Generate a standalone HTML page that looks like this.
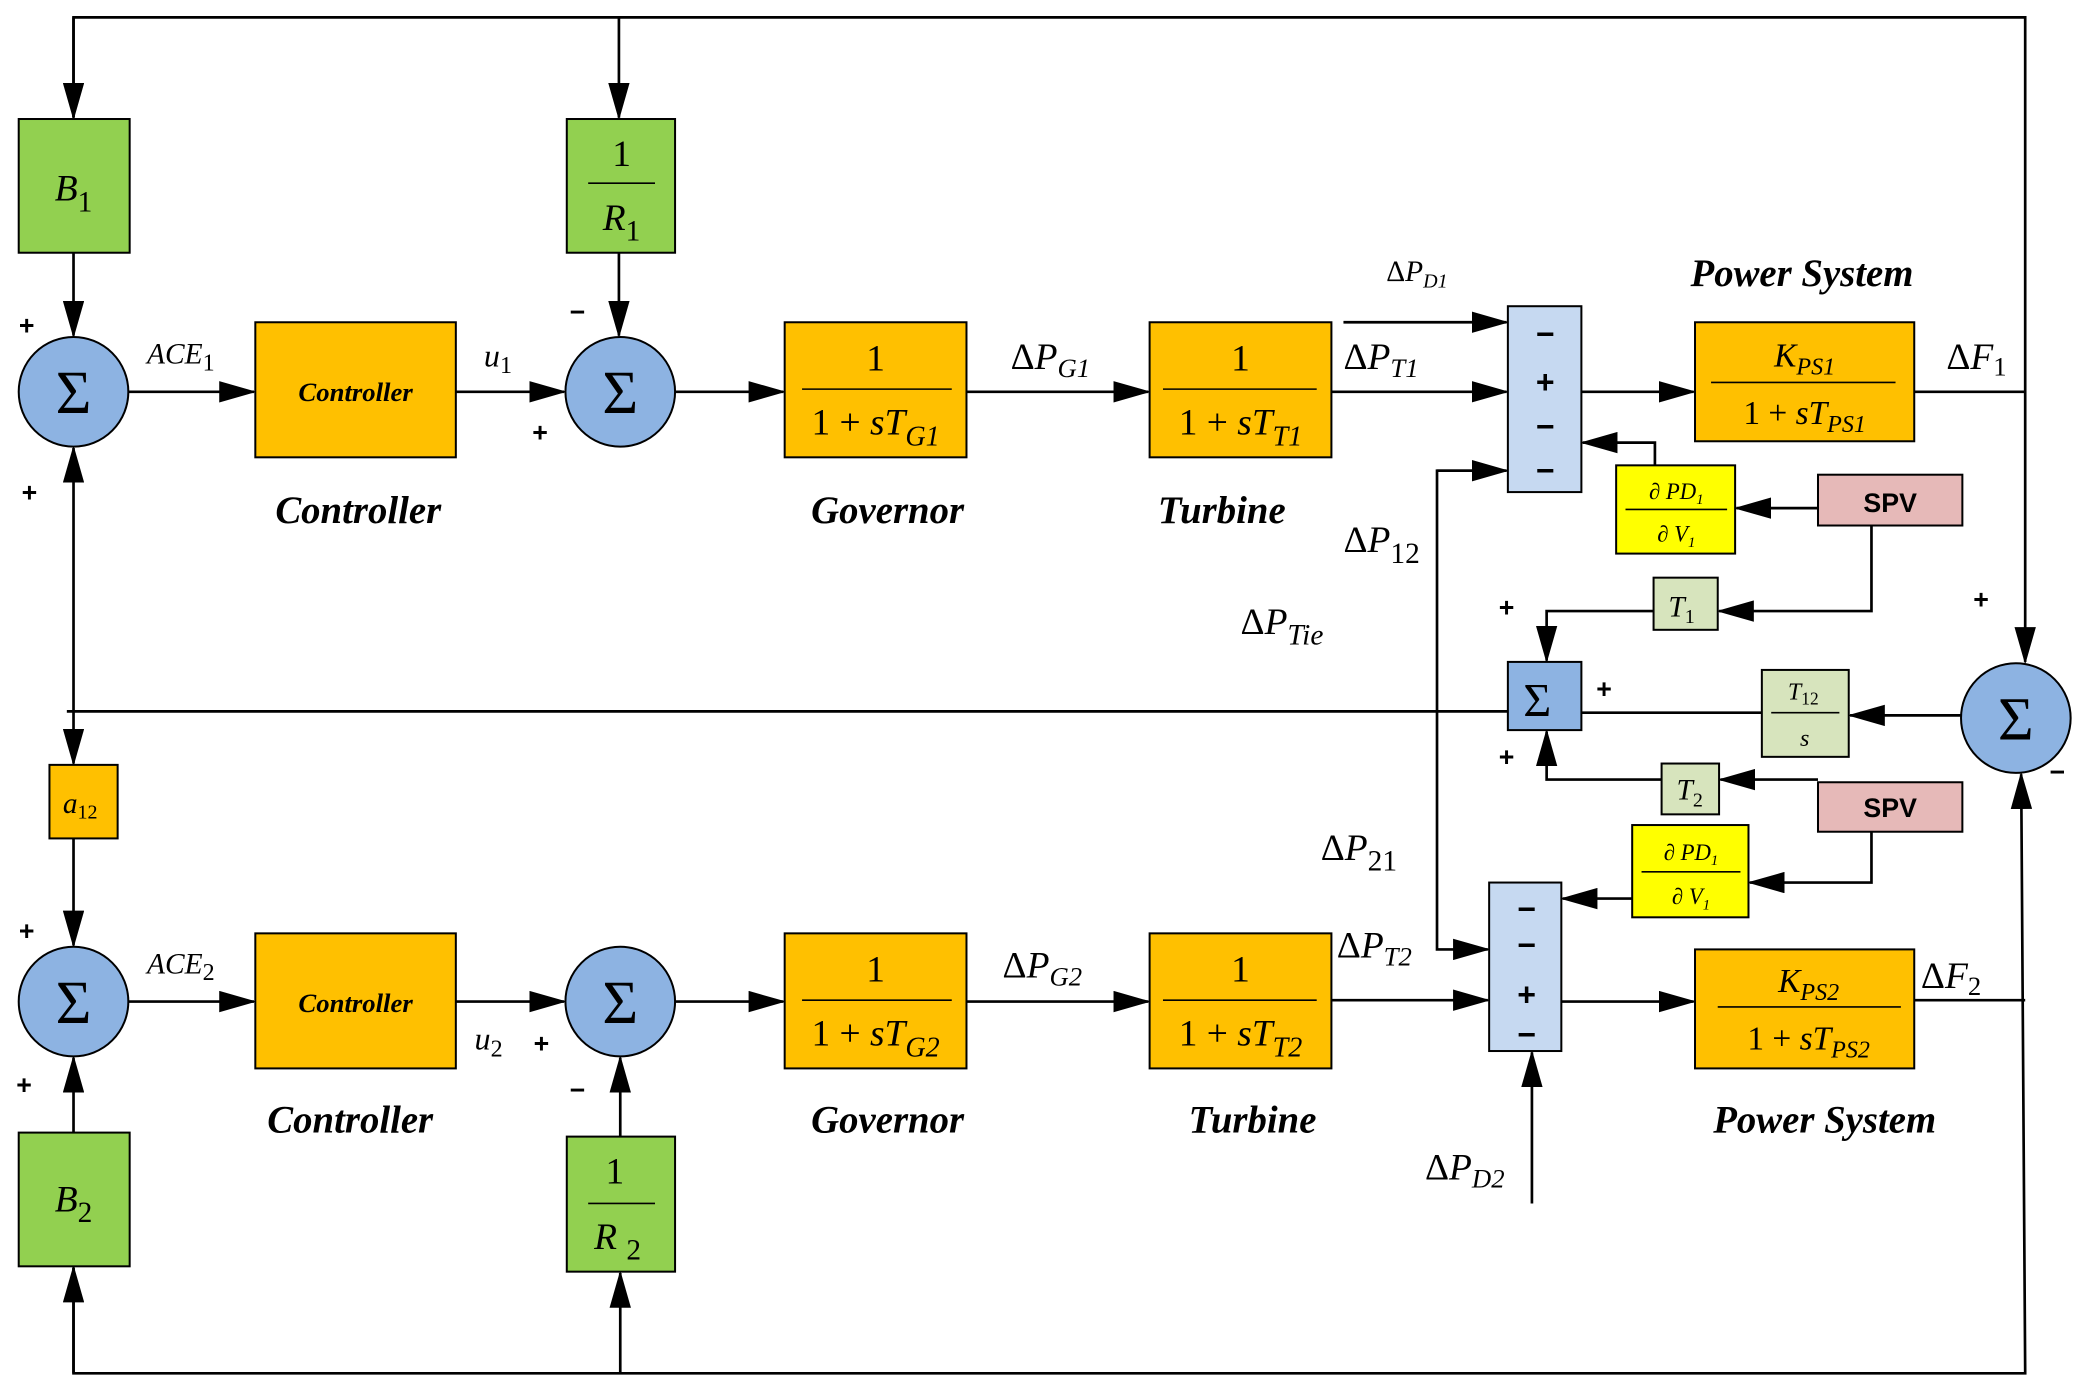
<!DOCTYPE html>
<html><head><meta charset="utf-8"><style>html,body{margin:0;padding:0;background:#fff}svg{display:block}</style></head>
<body>
<svg width="2080" height="1388" viewBox="0 0 1556 1038" preserveAspectRatio="none" xmlns="http://www.w3.org/2000/svg" font-family="Liberation Serif, serif">
<defs>
<marker id="a" markerWidth="28" markerHeight="16" refX="26" refY="8" orient="auto" markerUnits="userSpaceOnUse"><path d="M0,0 L28,8 L0,16 z" fill="#000"/></marker>
</defs>
<g stroke="#000" stroke-width="2" fill="none">
<polyline points="55,88 55,13 1515,13 1515,495" marker-end="url(#a)"/>
<line x1="55" y1="13" x2="55" y2="88" marker-end="url(#a)"/>
<line x1="463" y1="13" x2="463" y2="88" marker-end="url(#a)"/>
<line x1="55" y1="189" x2="55" y2="251" marker-end="url(#a)"/>
<line x1="463" y1="189" x2="463" y2="251" marker-end="url(#a)"/>
<line x1="96" y1="293" x2="190" y2="293" marker-end="url(#a)"/>
<line x1="341" y1="293" x2="422" y2="293" marker-end="url(#a)"/>
<line x1="505" y1="293" x2="586" y2="293" marker-end="url(#a)"/>
<line x1="723" y1="293" x2="859" y2="293" marker-end="url(#a)"/>
<line x1="996" y1="293" x2="1127" y2="293" marker-end="url(#a)"/>
<line x1="1005" y1="241" x2="1127" y2="241" marker-end="url(#a)"/>
<line x1="1183" y1="293" x2="1267" y2="293" marker-end="url(#a)"/>
<line x1="1432" y1="293" x2="1515" y2="293"/>
<polyline points="1238,348 1238,331 1184,331" marker-end="url(#a)"/>
<line x1="1360" y1="380" x2="1299" y2="380" marker-end="url(#a)"/>
<polyline points="1400,393 1400,457 1286,457" marker-end="url(#a)"/>
<polyline points="1237,457 1157,457 1157,494" marker-end="url(#a)"/>
<line x1="1467" y1="535" x2="1384" y2="535" marker-end="url(#a)"/>
<line x1="1318" y1="533" x2="1183" y2="533"/>
<line x1="50" y1="532" x2="1128" y2="532"/>
<line x1="1360" y1="583" x2="1287" y2="583" marker-end="url(#a)"/>
<polyline points="1243,583 1157,583 1157,547" marker-end="url(#a)"/>
<polyline points="1127,352 1075,352 1075,710 1113,710" marker-end="url(#a)"/>
<line x1="1075" y1="352" x2="1127" y2="352" marker-end="url(#a)"/>
<line x1="55" y1="532" x2="55" y2="335" marker-end="url(#a)"/>
<line x1="55" y1="532" x2="55" y2="571" marker-end="url(#a)"/>
<line x1="55" y1="627" x2="55" y2="707" marker-end="url(#a)"/>
<line x1="96" y1="749" x2="190" y2="749" marker-end="url(#a)"/>
<line x1="341" y1="749" x2="422" y2="749" marker-end="url(#a)"/>
<line x1="505" y1="749" x2="586" y2="749" marker-end="url(#a)"/>
<line x1="723" y1="749" x2="859" y2="749" marker-end="url(#a)"/>
<line x1="996" y1="748" x2="1113" y2="748" marker-end="url(#a)"/>
<line x1="1168" y1="749" x2="1267" y2="749" marker-end="url(#a)"/>
<line x1="1432" y1="748" x2="1515" y2="748"/>
<polyline points="1400,622 1400,660 1309,660" marker-end="url(#a)"/>
<line x1="1221" y1="672" x2="1169" y2="672" marker-end="url(#a)"/>
<line x1="1146" y1="900" x2="1146" y2="787" marker-end="url(#a)"/>
<line x1="55" y1="847" x2="55" y2="791" marker-end="url(#a)"/>
<line x1="464" y1="850" x2="464" y2="791" marker-end="url(#a)"/>
<polyline points="55,948 55,1027 1515,1027 1512,579" marker-end="url(#a)"/>
<line x1="55" y1="1027" x2="55" y2="948" marker-end="url(#a)"/>
<line x1="464" y1="1027" x2="464" y2="952" marker-end="url(#a)"/>
</g>
<g stroke="#000" stroke-width="1.5">
<rect x="14" y="89" width="83" height="100" fill="#92d050"/>
<rect x="424" y="89" width="81" height="100" fill="#92d050"/>
<rect x="14" y="847" width="83" height="100" fill="#92d050"/>
<rect x="424" y="850" width="81" height="101" fill="#92d050"/>
<rect x="191" y="241" width="150" height="101" fill="#ffc000"/>
<rect x="587" y="241" width="136" height="101" fill="#ffc000"/>
<rect x="860" y="241" width="136" height="101" fill="#ffc000"/>
<rect x="1268" y="241" width="164" height="89" fill="#ffc000"/>
<rect x="191" y="698" width="150" height="101" fill="#ffc000"/>
<rect x="587" y="698" width="136" height="101" fill="#ffc000"/>
<rect x="860" y="698" width="136" height="101" fill="#ffc000"/>
<rect x="1268" y="710" width="164" height="89" fill="#ffc000"/>
<rect x="37" y="572" width="51" height="55" fill="#ffc000"/>
<rect x="1128" y="229" width="55" height="139" fill="#c6d9f1"/>
<rect x="1114" y="660" width="54" height="126" fill="#c6d9f1"/>
<rect x="1128" y="495" width="55" height="51" fill="#8db3e2"/>
<rect x="1209" y="348" width="89" height="66" fill="#ffff00"/>
<rect x="1221" y="617" width="87" height="69" fill="#ffff00"/>
<rect x="1360" y="355" width="108" height="38" fill="#e6b9b8"/>
<rect x="1360" y="585" width="108" height="37" fill="#e6b9b8"/>
<rect x="1237" y="432" width="48" height="39" fill="#d7e4bd"/>
<rect x="1243" y="571" width="43" height="38" fill="#d7e4bd"/>
<rect x="1318" y="501" width="65" height="65" fill="#d7e4bd"/>
<circle cx="55" cy="293" r="41" fill="#8db3e2"/>
<circle cx="464" cy="293" r="41" fill="#8db3e2"/>
<circle cx="55" cy="749" r="41" fill="#8db3e2"/>
<circle cx="464" cy="749" r="41" fill="#8db3e2"/>
<circle cx="1508" cy="537" r="41" fill="#8db3e2"/>
</g>
<g stroke="#000" stroke-width="1.2">
<line x1="440" y1="137" x2="490" y2="137"/><line x1="440" y1="900" x2="490" y2="900"/>
<line x1="600" y1="291" x2="712" y2="291"/><line x1="870" y1="291" x2="985" y2="291"/>
<line x1="1280" y1="286" x2="1418" y2="286"/>
<line x1="600" y1="748" x2="712" y2="748"/><line x1="870" y1="748" x2="985" y2="748"/>
<line x1="1285" y1="753" x2="1422" y2="753"/>
<line x1="1216" y1="381" x2="1292" y2="381"/><line x1="1228" y1="652" x2="1302" y2="652"/>
<line x1="1325" y1="533" x2="1376" y2="533"/>
</g>
<g font-style="italic" font-size="28" text-anchor="middle" fill="#000">
<text x="55" y="150">B<tspan font-size="22" font-style="normal" dy="8">1</tspan></text>
<text x="55" y="906">B<tspan font-size="22" font-style="normal" dy="8">2</tspan></text>
<text x="465" y="124" font-style="normal">1</text>
<text x="465" y="172">R<tspan font-size="22" font-style="normal" dy="8">1</tspan></text>
<text x="460" y="885" font-style="normal">1</text>
<text x="462" y="934">R <tspan font-size="22" font-style="normal" dy="8">2</tspan></text>
<text x="655" y="277" font-style="normal">1</text>
<text x="655" y="325"><tspan font-style="normal">1 + </tspan>sT<tspan font-size="21" dy="8">G1</tspan></text>
<text x="928" y="277" font-style="normal">1</text>
<text x="928" y="325"><tspan font-style="normal">1 + </tspan>sT<tspan font-size="21" dy="8">T1</tspan></text>
<text x="655" y="734" font-style="normal">1</text>
<text x="655" y="782"><tspan font-style="normal">1 + </tspan>sT<tspan font-size="21" dy="8">G2</tspan></text>
<text x="928" y="734" font-style="normal">1</text>
<text x="928" y="782"><tspan font-style="normal">1 + </tspan>sT<tspan font-size="21" dy="8">T2</tspan></text>
<text x="1350" y="274" font-size="25">K<tspan font-size="18" dy="6">PS1</tspan></text>
<text x="1350" y="317" font-size="25"><tspan font-style="normal">1 + </tspan>sT<tspan font-size="18" dy="6">PS1</tspan></text>
<text x="1353" y="742" font-size="25">K<tspan font-size="18" dy="6">PS2</tspan></text>
<text x="1353" y="785" font-size="25"><tspan font-style="normal">1 + </tspan>sT<tspan font-size="18" dy="6">PS2</tspan></text>
<text x="1254" y="373" font-size="17"><tspan font-style="normal">∂</tspan> PD<tspan font-size="11" dy="4">1</tspan></text>
<text x="1254" y="405" font-size="17"><tspan font-style="normal">∂</tspan> V<tspan font-size="11" dy="4">1</tspan></text>
<text x="1265" y="643" font-size="17"><tspan font-style="normal">∂</tspan> PD<tspan font-size="11" dy="4">1</tspan></text>
<text x="1265" y="676" font-size="17"><tspan font-style="normal">∂</tspan> V<tspan font-size="11" dy="4">1</tspan></text>
<text x="1258" y="461" font-size="22">T<tspan font-size="15" font-style="normal" dy="5">1</tspan></text>
<text x="1264" y="598" font-size="22">T<tspan font-size="15" font-style="normal" dy="5">2</tspan></text>
<text x="1349" y="523" font-size="18">T<tspan font-size="13" font-style="normal" dy="4">12</tspan></text>
<text x="1350" y="558" font-size="18">s</text>
<text x="60" y="608" font-size="22">a<tspan font-size="15" font-style="normal" dy="4">12</tspan></text>
</g>
<g font-size="46" text-anchor="middle" fill="#000">
<text x="55" y="309">Σ</text><text x="464" y="309">Σ</text>
<text x="55" y="765">Σ</text><text x="464" y="765">Σ</text>
<text x="1508" y="553">Σ</text><text x="1150" y="536" font-size="36">Σ</text>
</g>
<g font-family="Liberation Sans, sans-serif" font-weight="bold" fill="#000" text-anchor="middle">
<g font-size="24">
<text x="1156" y="258">−</text><text x="1156" y="294">+</text><text x="1156" y="327">−</text><text x="1156" y="360">−</text>
<text x="1142" y="688">−</text><text x="1142" y="715">−</text><text x="1142" y="752">+</text><text x="1142" y="782">−</text>
</g>
<g font-size="20">
<text x="20" y="250">+</text><text x="22" y="375">+</text><text x="432" y="240">−</text><text x="404" y="330">+</text>
<text x="20" y="703">+</text><text x="18" y="818">+</text><text x="405" y="787">+</text><text x="432" y="822">−</text>
<text x="1127" y="461">+</text><text x="1200" y="522">+</text><text x="1127" y="573">+</text>
<text x="1482" y="455">+</text><text x="1539" y="584">−</text>
<text x="1414" y="383">SPV</text><text x="1414" y="611">SPV</text>
</g>
</g>
<g font-style="italic" font-weight="bold" fill="#000" text-anchor="middle">
<text x="266" y="300" font-size="20">Controller</text>
<text x="266" y="757" font-size="20">Controller</text>
<g font-size="29">
<text x="268" y="391">Controller</text><text x="262" y="847">Controller</text>
<text x="664" y="391">Governor</text><text x="664" y="847">Governor</text>
<text x="914" y="391">Turbine</text><text x="937" y="847">Turbine</text>
<text x="1348" y="214">Power System</text><text x="1365" y="847">Power System</text>
</g>
</g>
<g font-size="24" fill="#000">
<text x="110" y="272" font-style="italic" font-size="22">ACE<tspan font-style="normal" font-size="18" dy="5">1</tspan></text>
<text x="110" y="728" font-style="italic" font-size="22">ACE<tspan font-style="normal" font-size="18" dy="5">2</tspan></text>
<text x="362" y="274" font-style="italic">u<tspan font-style="normal" font-size="18" dy="5">1</tspan></text>
<text x="355" y="785" font-style="italic">u<tspan font-style="normal" font-size="18" dy="5">2</tspan></text>
<text x="756" y="276" font-size="28">Δ<tspan font-style="italic">P</tspan><tspan font-style="italic" font-size="20" dy="6">G1</tspan></text>
<text x="750" y="731" font-size="28">Δ<tspan font-style="italic">P</tspan><tspan font-style="italic" font-size="20" dy="6">G2</tspan></text>
<text x="1005" y="276" font-size="28">Δ<tspan font-style="italic">P</tspan><tspan font-style="italic" font-size="20" dy="6">T1</tspan></text>
<text x="1000" y="716" font-size="28">Δ<tspan font-style="italic">P</tspan><tspan font-style="italic" font-size="20" dy="6">T2</tspan></text>
<text x="1037" y="210" font-size="22">Δ<tspan font-style="italic">P</tspan><tspan font-style="italic" font-size="15" dy="5">D1</tspan></text>
<text x="1066" y="882" font-size="28">Δ<tspan font-style="italic">P</tspan><tspan font-style="italic" font-size="20" dy="6">D2</tspan></text>
<text x="1005" y="413" font-size="28">Δ<tspan font-style="italic">P</tspan><tspan font-size="22" dy="8">12</tspan></text>
<text x="988" y="643" font-size="28">Δ<tspan font-style="italic">P</tspan><tspan font-size="22" dy="8">21</tspan></text>
<text x="928" y="474" font-size="28">Δ<tspan font-style="italic">P</tspan><tspan font-style="italic" font-size="22" dy="8">Tie</tspan></text>
<text x="1456" y="276" font-size="28">Δ<tspan font-style="italic">F</tspan><tspan font-size="20" dy="5">1</tspan></text>
<text x="1437" y="739" font-size="28">Δ<tspan font-style="italic">F</tspan><tspan font-size="20" dy="5">2</tspan></text>
</g>
</svg>
</body></html>
